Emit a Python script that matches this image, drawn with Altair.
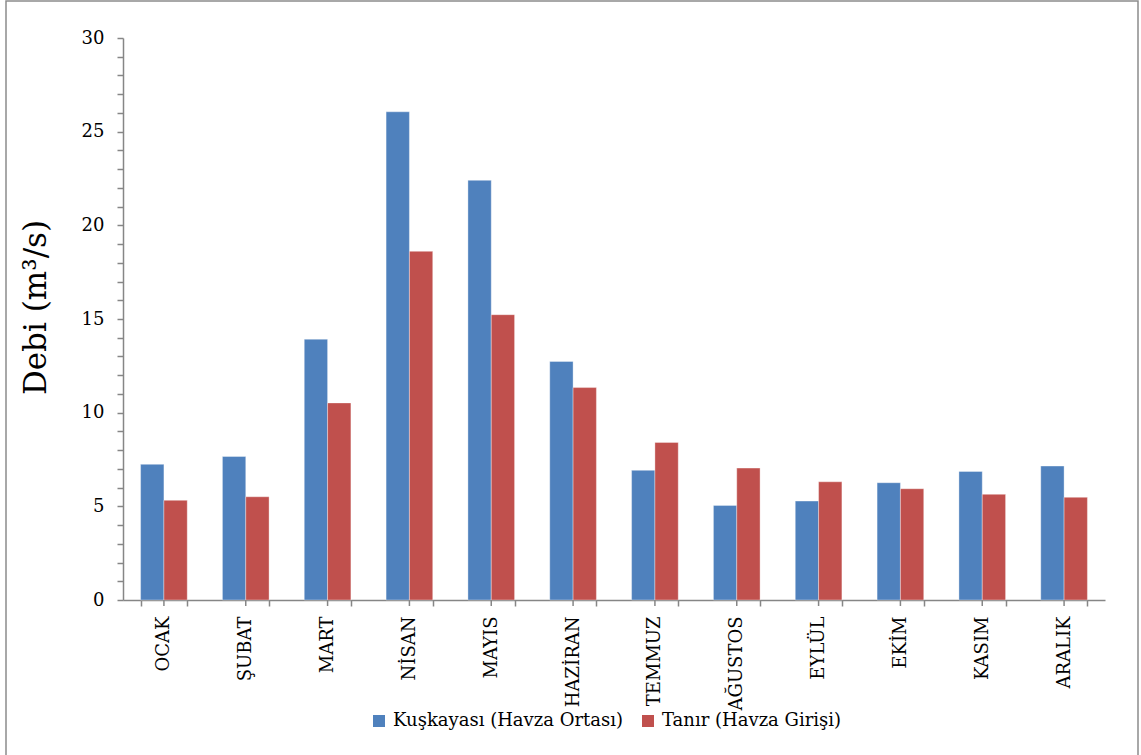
import altair as alt
import pandas as pd

# Monthly mean discharge (m³/s) at two gauging stations
months = ["OCAK", "ŞUBAT", "MART", "NİSAN", "MAYIS", "HAZİRAN",
          "TEMMUZ", "AĞUSTOS", "EYLÜL", "EKİM", "KASIM", "ARALIK"]
kuskayasi = [7.24, 7.66, 13.92, 26.06, 22.40, 12.73, 6.92, 5.05, 5.28, 6.26, 6.86, 7.15]
tanir = [5.32, 5.51, 10.52, 18.61, 15.23, 11.34, 8.41, 7.04, 6.31, 5.94, 5.64, 5.48]

series_names = ["Kuşkayası (Havza Ortası)", "Tanır (Havza Girişi)"]
series_colors = ["#4F81BD", "#C0504D"]

rows = []
for m, a, b in zip(months, kuskayasi, tanir):
    rows.append({"Ay": m, "Seri": series_names[0], "Debi": a})
    rows.append({"Ay": m, "Seri": series_names[1], "Debi": b})
df = pd.DataFrame(rows)
month_df = pd.DataFrame({"Ay": months})

FONT = "DejaVu Serif"
AXIS_GRAY = "#868686"
W, H = 982, 562

x_scale = alt.Scale(domain=months, paddingInner=0.43, paddingOuter=0.215)

# ticks at the band edges, labels at the band centres
x_axis = alt.Axis(
    title=None, tickBand="extent", labelAngle=270, labelAlign="right",
    labelBaseline="middle", labelFont=FONT, labelFontSize=18,
    labelColor="black", labelPadding=10, labelOverlap=False,
    tickSize=6, tickColor=AXIS_GRAY, tickWidth=1.5,
    domainColor=AXIS_GRAY, domainWidth=1.5,
)

bars = alt.Chart(df).mark_bar(stroke="white", strokeOpacity=0.35, strokeWidth=1).encode(
    x=alt.X("Ay:N", sort=months, scale=x_scale, axis=x_axis),
    xOffset=alt.XOffset("Seri:N", sort=series_names),
    y=alt.Y(
        "Debi:Q", scale=alt.Scale(domain=[0, 30], nice=False),
        axis=alt.Axis(
            title="Debi (m³/s)", values=list(range(0, 31)),
            labelExpr="datum.value % 5 === 0 ? datum.label : ''",
            labelFont=FONT, labelFontSize=18, labelColor="black",
            labelPadding=13, labelOverlap=False, grid=False,
            tickSize=6, tickColor=AXIS_GRAY, tickWidth=1.5,
            domainColor=AXIS_GRAY, domainWidth=1.5,
            titleFont=FONT, titleFontSize=31, titleFontWeight="normal",
            titleColor="black", titleAngle=270, titleAlign="center",
            titleBaseline="middle", titleX=-87, titleY=269,
        ),
    ),
    color=alt.Color(
        "Seri:N",
        scale=alt.Scale(domain=series_names, range=series_colors),
        legend=alt.Legend(
            title=None, orient="none", legendX=247, legendY=674,
            direction="horizontal", symbolType="square", symbolSize=144,
            symbolStrokeWidth=0, labelFont=FONT, labelFontSize=18,
            labelColor="black", labelLimit=400, columnPadding=15, labelOffset=5,
        ),
    ),
)

# small ticks at the middle of each month band, below the axis line
center_ticks = alt.Chart(month_df).mark_rule(color=AXIS_GRAY, strokeWidth=1.5).encode(
    x=alt.X("Ay:N", sort=months, scale=x_scale, axis=x_axis),
    y=alt.value(H),
    y2=alt.value(H + 6),
)

# outer frame around the whole figure
frame = alt.Chart(pd.DataFrame({"k": [0]})).mark_rect(
    fill="white", fillOpacity=0, stroke="#8c8c8c", strokeWidth=1.5
).encode(
    x=alt.value(-117), x2=alt.value(1015),
    y=alt.value(-37), y2=alt.value(760),
)

chart = alt.layer(frame, bars, center_ticks).properties(
    width=W, height=H,
    autosize=alt.AutoSizeParams(type="none"),
    padding={"left": 123, "top": 38, "right": 36, "bottom": 155},
).configure_view(stroke=None)

chart.save("out.html", embed_options={"renderer": "svg", "actions": False})
